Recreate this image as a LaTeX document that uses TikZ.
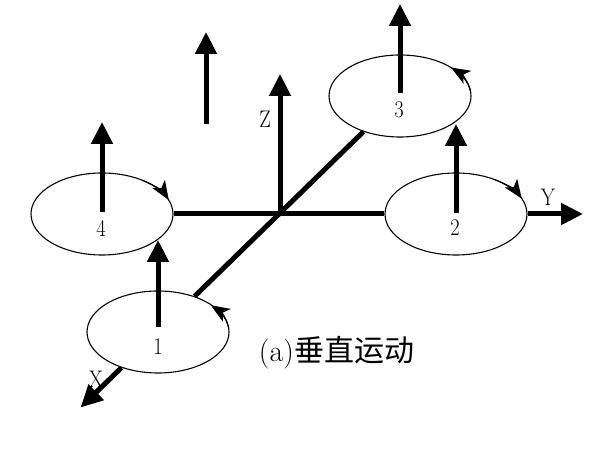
\documentclass[tikz,border=0pt]{standalone}
\usepackage{fontspec}
\newfontfamily\cjk{Noto Sans CJK SC}
\usetikzlibrary{shapes.geometric,arrows.meta,calc}
\begin{document}
\begin{tikzpicture}[x=1pt,y=1pt,
  rotor/.style={ellipse,draw,line width=1.1pt,minimum width=142pt,minimum height=82pt,inner sep=0pt},
  armline/.style={line width=5pt},
  thrust/.style={line width=5pt,-{Triangle[length=22pt,width=21pt]}},
  spin/.style={line width=1.1pt,-{Stealth[length=19pt,width=15pt,inset=5pt]}},
  lab/.style={font=\fontsize{24}{24}\selectfont,xscale=0.85,inner sep=0pt},
  caption/.style={font=\fontsize{30}{30}\selectfont,inner sep=0pt}
]
\useasboundingbox (0,0) rectangle (605,460);
% rotors
\node[rotor] (e4) at (102,246) {};
\node[rotor] (e1) at (158,128) {};
\node[rotor] (e3) at (400,364) {};
\node[rotor] (e2) at (456,246) {};
\coordinate (O) at (280,246);
% frame and axes
\draw[armline] (e4) -- (e2);
\draw[armline] (e3) -- (e1);
\coordinate (Ytip) at (583,246);
\coordinate (Ztip) at (280,386);
\coordinate (Xtip) at ($(e1.center)!-0.32!(e3.center)$);
\draw[thrust] (e2) -- (Ytip);
\draw[thrust] (O) -- (Ztip);
\draw[thrust] (e1) -- (Xtip);
% thrust arrows
\coordinate (F0) at (206,336);
\coordinate (F1) at (206,428);
\draw[thrust] (F0) -- (F1);
\coordinate (T4) at (102,338);
\coordinate (T1) at (158,220);
\coordinate (T3) at (400,456);
\coordinate (T2) at (456,336);
\draw[thrust] ([yshift=2pt]e4.center) -- (T4);
\draw[thrust] ([yshift=5pt]e1.center) -- (T1);
\draw[thrust] ([yshift=3pt]e3.center) -- (T3);
\draw[thrust] ([yshift=1pt]e2.center) -- (T2);
% rotation arrowheads
\draw[spin] ($(e4.center)+(55:71 and 41)$) arc[start angle=55,end angle=20,x radius=71,y radius=41];
\draw[spin] ($(e1.center)+(5:71 and 40)$) arc[start angle=5,end angle=42,x radius=71,y radius=40];
\draw[spin] ($(e3.center)+(7:71 and 41)$) arc[start angle=7,end angle=44,x radius=71,y radius=41];
\draw[spin] ($(e2.center)+(57:71 and 41)$) arc[start angle=57,end angle=22,x radius=71,y radius=41];
% labels
\node[lab] (n4) at (101,232) {4};
\node[lab] (n1) at (158,113) {1};
\node[lab] (n3) at (399,350) {3};
\node[lab] (n2) at (455,232) {2};
\node[lab] (lz) at (265,341) {Z};
\node[lab] (ly) at (548,263) {Y};
\node[lab] (lx) at (96,81) {X};
\node[caption] (cap) at (336.5,107) {(a)\cjk 垂直运动};
\end{tikzpicture}
\end{document}
